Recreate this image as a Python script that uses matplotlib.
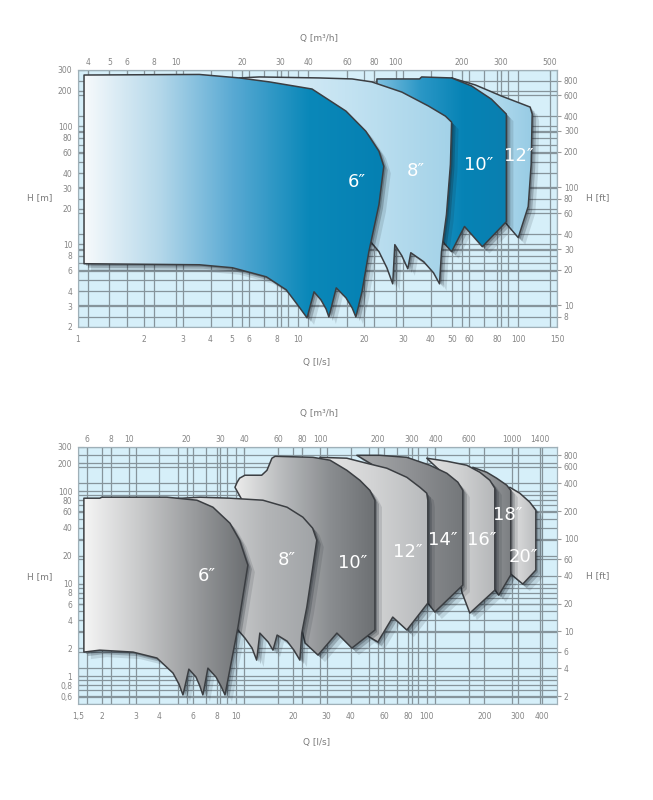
import numpy as np
import matplotlib
matplotlib.use("Agg")
import matplotlib.pyplot as plt
from matplotlib.patches import Polygon
from matplotlib.colors import LinearSegmentedColormap
from matplotlib.transforms import offset_copy
from matplotlib.ticker import LogLocator, NullFormatter, NullLocator

# ---------------- top chart (Q in l/s, H in m) ----------------
top_q_ticks = [1, 2, 3, 4, 5, 6, 8, 10, 20, 30, 40, 50, 60, 80, 100, 150]
top_m3_ticks = [4, 5, 6, 8, 10, 20, 30, 40, 60, 80, 100, 200, 300, 500]
top_h_ticks = [2, 3, 4, 6, 8, 10, 20, 30, 40, 60, 80, 100, 200, 300]
top_ft_ticks = [8, 10, 20, 30, 40, 60, 80, 100, 200, 300, 400, 600, 800]

t6_q = [1.065, 3.56, 5.41, 7.39, 11.57, 16.5, 20.3, 23.3, 24.5, 23.3, 20.96, 19.5, 18.3,
        17.6, 16.5, 14.9, 13.8, 13.4, 12.7, 11.81, 10.98, 10.1, 8.83, 7.17, 5.03, 3.56, 1.065]
t6_h = [272, 275, 257, 238, 207, 134.6, 91, 61.5, 45.9, 21.8, 8.68, 3.97, 2.43,
        2.90, 3.53, 4.29, 2.43, 2.84, 3.39, 3.97, 2.39, 2.96, 4.13, 5.32, 6.35, 6.73, 6.87]
t8_q = [5.41, 6.66, 12.44, 17.6, 21.6, 29.6, 39.1, 46.7, 49.8, 49.2, 47.2, 44.8, 43.9,
        41.2, 37.2, 32.5, 31.5, 29.6, 27.5, 26.9, 25.3, 23.3, 20.96, 18.9, 6.0]
t8_h = [257, 262, 257, 252, 238, 195, 148.6, 122, 108.6, 47.7, 17.9, 8.68, 4.64,
        5.76, 7.14, 8.51, 6.22, 8.02, 9.96, 4.64, 6.35, 8.68, 10.99, 10.99, 64]
t10_q = [22.8, 35.6, 36.4, 49.8, 61.3, 75.5, 88.3, 88.3, 68.7, 57.0, 49.8, 45.8, 39.1, 28.6, 22.8]
t10_h = [252, 252, 262, 257, 220, 170, 127, 15.6, 9.57, 14.2, 8.68, 10.36, 24.0, 140, 224]
t12_q = [49.8, 63.9, 83.8, 113.3, 115.7, 114.5, 111, 100, 87.4, 81.2, 73.1, 50.8]
t12_h = [257, 224, 180.7, 145.6, 127, 47.7, 20.96, 11.42, 15.3, 35.6, 140, 247]
top_labels = ['6\u2033', '8\u2033', '10\u2033', '12\u2033']
top_label_q = [18.5, 34.2, 65.9, 101]
top_label_h = [33.5, 41.6, 46.8, 55.8]

# ---------------- bottom chart ----------------
bot_q_ticks = [1.5, 2, 3, 4, 6, 8, 10, 20, 30, 40, 60, 80, 100, 200, 300, 400]
bot_m3_ticks = [6, 8, 10, 20, 30, 40, 60, 80, 100, 200, 300, 400, 600, 1000, 1400]
bot_h_ticks = [0.6, 0.8, 1, 2, 4, 6, 8, 10, 20, 40, 60, 80, 100, 200, 300]
bot_ft_ticks = [2, 4, 6, 10, 20, 40, 60, 100, 200, 400, 600, 800]

b6_q = [1.61, 1.95, 2.00, 4.38, 6.28, 7.62, 9.35, 10.5, 11.6, 10.3, 8.81, 8.39, 7.9, 7.17,
        6.75, 6.51, 6.21, 5.70, 5.31, 5.06, 4.71, 3.88, 2.91, 1.95, 1.61]
b6_h = [83.9, 83.9, 86, 86, 79.8, 67, 45, 29.5, 15.85, 3.4, 0.626, 0.78, 0.98, 1.22,
        0.626, 0.78, 0.98, 1.19, 0.626, 0.82, 1.08, 1.57, 1.82, 1.91, 1.82]
b8_q = [4.27, 6.51, 9.35, 13.9, 18.6, 22.5, 25.3, 26.6, 25.1, 23.6, 22.2, 21.7, 20.2, 18.6,
        16.5, 15.7, 14.8, 13.4, 12.9, 12.2, 11.2, 10.3, 8.81, 6.51]
b8_h = [81.8, 86, 83.9, 79.8, 67, 52.3, 39.8, 29.5, 13, 5.58, 2.92, 1.49, 1.91, 2.39,
        2.78, 1.91, 2.34, 2.92, 1.49, 2.01, 2.58, 3.15, 6.64, 37.8]
b10_q = [9.93, 10.2, 10.5, 11.2, 13.7, 14.6, 15.5, 16.1, 25.4, 31.2, 38.2, 44.7, 50.4, 53.6,
         53.6, 40.6, 33.9, 27.0, 23.1, 20.4, 11.2]
b10_h = [110, 125, 138, 148.6, 148.6, 168, 227, 238, 232, 216, 168, 131, 102, 79.8,
         3.15, 2.01, 2.92, 1.69, 2.28, 6.64, 70.5]
b12_q = [27.6, 38.2, 48.6, 61.8, 78.7, 92.1, 100, 101.3, 101.3, 78.7, 66.4, 55.5, 49.2, 44.7, 35.1]
b12_h = [232, 227, 200, 177, 141, 110, 95, 79.8, 6.16, 3.15, 4.35, 2.34, 2.71, 6.64, 131]
b14_q = [43.1, 56.9, 78.7, 103.8, 127.4, 145.4, 154.4, 154.4, 110.2, 101.3, 92.1, 64.1]
b14_h = [244, 244, 232, 190.5, 156, 125, 102, 9.64, 4.93, 6.16, 23, 148.6]
b16_q = [100, 127.4, 162, 189.5, 213.8, 227, 227, 168, 152.6, 140.2, 124.4]
b16_h = [227, 210.5, 190.5, 160, 131, 107.6, 8.5, 4.8, 8.1, 37.8, 148.6]
b18_q = [174, 206, 232, 262, 275, 275, 238, 224, 213.8, 201]
b18_h = [181, 160, 138, 116, 102, 12.4, 7.5, 8.9, 37.8, 131]
b20_q = [272, 306.6, 346, 372, 372, 318, 275, 256, 256]
b20_h = [110, 95, 75.9, 62.2, 14, 9.9, 12.7, 37.8, 102]
bot_labels = ['6\u2033', '8\u2033', '10\u2033', '12\u2033', '14\u2033', '16\u2033', '18\u2033', '20\u2033']
bot_label_q = [7.08, 18.6, 41, 79.7, 121, 194, 265, 322]
bot_label_h = [12, 18, 16.7, 21.9, 29.5, 29.5, 55, 19.4]

W, H = 653, 800
fig = plt.figure(figsize=(W / 100, H / 100), dpi=100)
ax1 = fig.add_axes([78 / W, 1 - 327 / H, 479 / W, 257 / H])
ax2 = fig.add_axes([78 / W, 1 - 704 / H, 479 / W, 257 / H])

GRID = '#86949b'
LBL = '#858585'
M3_PER_LS = 3.6
M_PER_FT = 0.3048


def fmt(v):
    return ('%g' % v).replace('.', ',')


def setup(ax, xlim, ylim, xt, yt, m3t, ftt):
    ax.set_xscale('log')
    ax.set_yscale('log')
    ax.set_xlim(xlim)
    ax.set_ylim(ylim)
    ax.set_facecolor('#d6eff9')
    ax.set_xticks(xt, labels=[fmt(v) for v in xt])
    ax.set_yticks(yt, labels=[fmt(v) for v in yt])
    ax.xaxis.set_minor_locator(LogLocator(base=10, subs=np.arange(1, 10), numticks=60))
    ax.yaxis.set_minor_locator(LogLocator(base=10, subs=np.arange(1, 10), numticks=60))
    ax.xaxis.set_minor_formatter(NullFormatter())
    ax.yaxis.set_minor_formatter(NullFormatter())
    ax.set_axisbelow(True)
    ax.grid(which='both', color=GRID, lw=0.9)
    # grid lines of the secondary units as well (as in the original chart)
    for v in ftt:
        ax.axhline(v * M_PER_FT, color=GRID, lw=0.9, zorder=0.5)
    for v in m3t:
        ax.axvline(v / M3_PER_LS, color=GRID, lw=0.9, zorder=0.5)
    ax.tick_params(axis='x', which='both', length=0, labelsize=5.5, labelcolor=LBL, pad=6)
    ax.tick_params(axis='y', which='major', direction='in', length=4, color=GRID,
                   labelsize=5.5, labelcolor=LBL, pad=4)
    ax.tick_params(axis='y', which='minor', direction='in', length=2, color=GRID)
    for s in ax.spines.values():
        s.set_color('#9fb0b8')
        s.set_linewidth(0.8)
    sx = ax.secondary_xaxis('top', functions=(lambda q: q * M3_PER_LS, lambda m: m / M3_PER_LS))
    sx.set_xticks(m3t, labels=[fmt(v) for v in m3t])
    sx.xaxis.set_minor_locator(NullLocator())
    sx.tick_params(direction='in', length=4, color=GRID, labelsize=5.5, labelcolor=LBL, pad=2)
    sx.spines['top'].set_color('#9fb0b8')
    sy = ax.secondary_yaxis('right', functions=(lambda h: h / M_PER_FT, lambda f: f * M_PER_FT))
    sy.set_yticks(ftt, labels=[fmt(v) for v in ftt])
    sy.yaxis.set_minor_locator(NullLocator())
    sy.tick_params(direction='out', length=3, color='#999999', labelsize=5.5,
                   labelcolor=LBL, pad=2)
    sy.spines['right'].set_color('#9fb0b8')


def shape(ax, q, h, colors, z):
    verts = np.column_stack([q, h])
    for d, a in [(7, 0.12), (4, 0.22), (2, 0.25)]:
        sh = Polygon(verts, closed=True,
                     transform=offset_copy(ax.transData, fig=fig, x=d, y=-d, units='dots'),
                     facecolor='#101820', edgecolor='none', alpha=a, zorder=z)
        ax.add_patch(sh)
    body = Polygon(verts, closed=True, facecolor='none', edgecolor='#3b3e42',
                   lw=1.1, joinstyle='round', zorder=z + 0.2)
    ax.add_patch(body)
    inv = ax.transAxes.inverted()
    x0, y0 = inv.transform(ax.transData.transform((min(q), min(h))))
    x1, y1 = inv.transform(ax.transData.transform((max(q), max(h))))
    cmap = LinearSegmentedColormap.from_list('g', colors)
    im = ax.imshow(np.linspace(0, 1, 256)[None, :], cmap=cmap, extent=[x0, x1, y0, y1],
                   transform=ax.transAxes, aspect='auto', interpolation='bilinear',
                   zorder=z + 0.1)
    im.set_clip_path(body)


setup(ax1, (1, 150), (2, 300), top_q_ticks, top_h_ticks, top_m3_ticks, top_ft_ticks)
setup(ax2, (1.5, 480), (0.5, 300), bot_q_ticks, bot_h_ticks, bot_m3_ticks, bot_ft_ticks)

# top chart shapes (back to front)
shape(ax1, t12_q, t12_h, ['#cde6f3', '#b2dbee', '#97cbe4'], 2)
shape(ax1, t10_q, t10_h, ['#7fc0e0', '#2b97c6', '#0683b5', '#0a7fb0'], 3)
shape(ax1, t8_q, t8_h, ['#e2f1f8', '#c4e3f2', '#a3d2e8'], 4)
shape(ax1, t6_q, t6_h, ['#f7fafc', '#b5d8ea', '#58a9d3', '#0a88b9', '#0580b2'], 5)
for t, q, h in zip(top_labels, top_label_q, top_label_h):
    ax1.text(q, h, t, color='white', fontsize=13, ha='center', va='center', zorder=20)

# bottom chart shapes (back to front)
shape(ax2, b20_q, b20_h, ['#e2e2e2', '#d2d3d4', '#b9bbbd'], 2)
shape(ax2, b18_q, b18_h, ['#a5a7a9', '#8e9194', '#7b7e81'], 3)
shape(ax2, b16_q, b16_h, ['#e0e0e0', '#cfd0d1', '#b4b6b8'], 4)
shape(ax2, b14_q, b14_h, ['#a8aaac', '#8f9194', '#74777a'], 5)
shape(ax2, b12_q, b12_h, ['#e6e6e6', '#d2d3d4', '#b8babc'], 6)
shape(ax2, b10_q, b10_h, ['#ececec', '#b9bbbd', '#8b8e91', '#6c6f72'], 7)
shape(ax2, b8_q, b8_h, ['#ededed', '#d3d4d5', '#b3b5b7', '#a0a3a6'], 8)
shape(ax2, b6_q, b6_h, ['#f5f5f5', '#c9cacb', '#9a9c9e', '#6b6e71'], 9)
for t, q, h in zip(bot_labels, bot_label_q, bot_label_h):
    ax2.text(q, h, t, color='white', fontsize=13, ha='center', va='center', zorder=20)

# axis titles
tkw = dict(color='#7a7a7a', fontsize=6.5, ha='center', va='center')
fig.text(319 / W, 1 - 38 / H, 'Q [m\u00b3/h]', **tkw)
fig.text(317 / W, 1 - 362 / H, 'Q [l/s]', **tkw)
fig.text(40 / W, 1 - 198 / H, 'H [m]', **tkw)
fig.text(598 / W, 1 - 198 / H, 'H [ft]', **tkw)
fig.text(319 / W, 1 - 414 / H, 'Q [m\u00b3/h]', **tkw)
fig.text(317 / W, 1 - 743 / H, 'Q [l/s]', **tkw)
fig.text(40 / W, 1 - 577 / H, 'H [m]', **tkw)
fig.text(598 / W, 1 - 576 / H, 'H [ft]', **tkw)

fig.savefig('out.png', dpi=100, facecolor='white')
